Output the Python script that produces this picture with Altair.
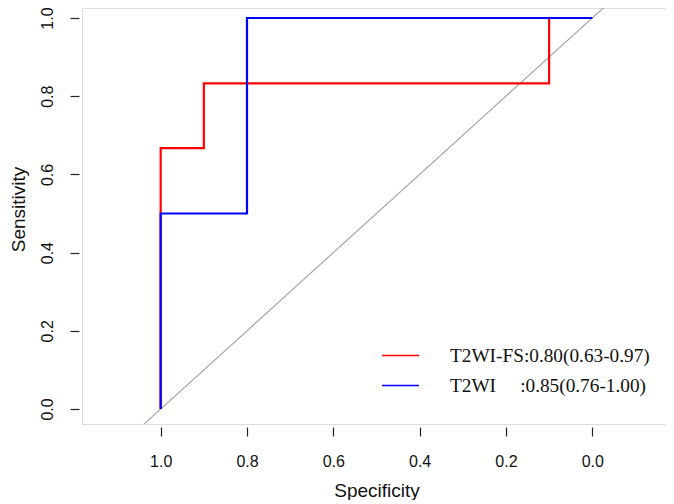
import altair as alt
import pandas as pd

# ROC curves (specificity, sensitivity)
fs_name = "T2WI-FS:0.80(0.63-0.97)"
t2_name = "T2WI" + "\u00a0" * 5 + ":0.85(0.76-1.00)"

fs_spec = [1.0, 1.0, 1.0, 0.9, 0.9, 0.1, 0.1, 0.0]
fs_sens = [0.0, 0.5, 0.667, 0.667, 0.833, 0.833, 1.0, 1.0]

t2_spec = [1.0, 1.0, 0.8, 0.8, 0.0]
t2_sens = [0.0, 0.5, 0.5, 1.0, 1.0]

diag_spec = [1.1, -0.1]
diag_sens = [-0.1, 1.1]

ticks = [1.0, 0.8, 0.6, 0.4, 0.2, 0.0]

fs_df = pd.DataFrame({"spec": fs_spec, "sens": fs_sens, "series": fs_name, "i": range(len(fs_spec))})
t2_df = pd.DataFrame({"spec": t2_spec, "sens": t2_sens, "series": t2_name, "i": range(len(t2_spec))})
diag_df = pd.DataFrame({"spec": diag_spec, "sens": diag_sens, "i": [0, 1]})

FONT = "Liberation Sans"

xscale = alt.Scale(domain=[-0.1708, 1.1823], reverse=True, nice=False, zero=False)
yscale = alt.Scale(domain=[-0.0384, 1.0256], nice=False, zero=False)

xaxis = alt.Axis(values=ticks, format=".1f", title="Specificity", grid=False, domain=False,
                 offset=3, tickSize=9, tickColor="#222", tickWidth=1.2,
                 labelFont=FONT, labelFontSize=16, labelColor="#111", labelFontWeight="normal",
                 labelBaseline="alphabetic", labelPadding=30, labelFlush=False,
                 titleFont=FONT, titleFontSize=19, titleFontWeight="normal", titleColor="#111",
                 titleBaseline="alphabetic", titleX=294.5, titleY=69, titleAlign="center")
yaxis = alt.Axis(values=ticks, format=".1f", title="Sensitivity", grid=False, domain=False,
                 offset=3, tickSize=9, tickColor="#222", tickWidth=1.2,
                 labelFont=FONT, labelFontSize=16, labelColor="#111", labelAngle=270,
                 labelAlign="center", labelBaseline="alphabetic", labelPadding=18, labelFlush=False,
                 titleFont=FONT, titleFontSize=19, titleFontWeight="normal", titleColor="#111",
                 titleAngle=270, titleBaseline="alphabetic", titleAlign="center",
                 titleX=-54.5, titleY=201)

color = alt.Color("series:N",
                  scale=alt.Scale(domain=[fs_name, t2_name], range=["#FF0000", "#0000FF"]),
                  legend=alt.Legend(title=None, orient="none", legendX=299, legendY=328,
                                    symbolType="stroke", symbolSize=1369, symbolStrokeWidth=1.6,
                                    labelFont="Liberation Serif", labelFontSize=19.3, labelColor="#111",
                                    labelLimit=500, labelOffset=30, rowPadding=-12, padding=0))

diag = alt.Chart(diag_df).mark_line(color="#a0a0a0", strokeWidth=1.1, clip=True).encode(
    x=alt.X("spec:Q", scale=xscale, axis=xaxis),
    y=alt.Y("sens:Q", scale=yscale, axis=yaxis),
    order="i:Q",
)

fs_line = alt.Chart(fs_df).mark_line(strokeWidth=2.2, clip=True).encode(
    x=alt.X("spec:Q", scale=xscale, axis=xaxis),
    y=alt.Y("sens:Q", scale=yscale, axis=yaxis),
    color=color,
    order="i:Q",
)

t2_line = alt.Chart(t2_df).mark_line(strokeWidth=2.2, clip=True).encode(
    x=alt.X("spec:Q", scale=xscale, axis=xaxis),
    y=alt.Y("sens:Q", scale=yscale, axis=yaxis),
    color=color,
    order="i:Q",
)

chart = alt.layer(diag, fs_line, t2_line).properties(
    width=584, height=416,
    autosize=alt.AutoSizeParams(type="none"),
    padding={"left": 74, "top": 0, "right": 0, "bottom": 76},
).configure_view(stroke="#333", strokeWidth=1.8).configure(background="white")

chart.save("out.html", embed_options={"renderer": "svg", "actions": False})
